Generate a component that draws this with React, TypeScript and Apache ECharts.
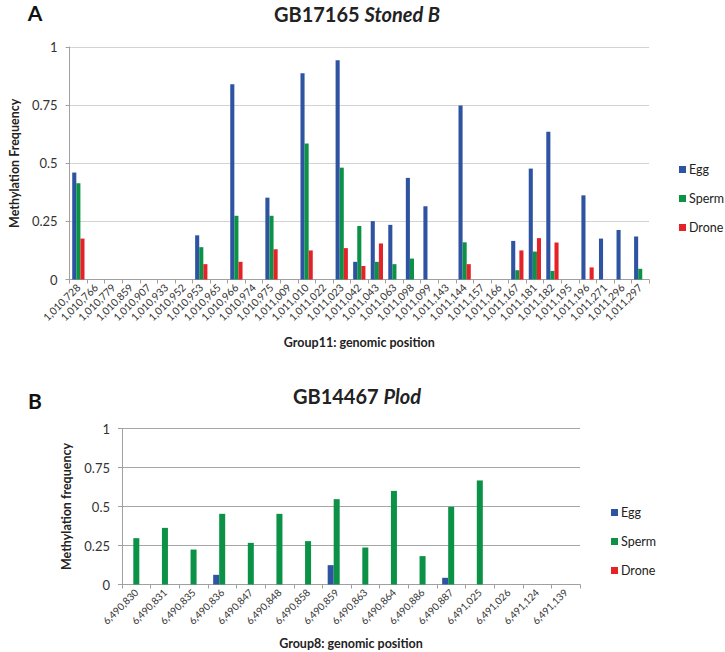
import React, { useEffect, useRef } from "react";
import * as echarts from "echarts";

const positionsA = [
  "1,010,728", "1,010,766", "1,010,779", "1,010,859", "1,010,907", "1,010,933", "1,010,952",
  "1,010,953", "1,010,965", "1,010,966", "1,010,974", "1,010,975", "1,011,009", "1,011,010",
  "1,011,022", "1,011,023", "1,011,042", "1,011,043", "1,011,063", "1,011,098", "1,011,099",
  "1,011,143", "1,011,144", "1,011,157", "1,011,166", "1,011,167", "1,011,181", "1,011,182",
  "1,011,195", "1,011,196", "1,011,271", "1,011,296", "1,011,297",
];
const eggA = [0.46, 0, 0, 0, 0, 0, 0, 0.19, 0, 0.84, 0, 0.352, 0, 0.887, 0, 0.943, 0.076, 0.251, 0.235, 0.437, 0.315, 0, 0.748, 0, 0, 0.166, 0.477, 0.636, 0, 0.362, 0.176, 0.213, 0.185];
const spermA = [0.414, 0, 0, 0, 0, 0, 0, 0.139, 0, 0.274, 0, 0.274, 0, 0.585, 0, 0.481, 0.23, 0.076, 0.066, 0.09, 0, 0, 0.16, 0, 0, 0.04, 0.12, 0.037, 0, 0, 0, 0, 0.046];
const droneA = [0.176, 0, 0, 0, 0, 0, 0, 0.066, 0, 0.076, 0, 0.13, 0, 0.125, 0, 0.135, 0.058, 0.155, 0, 0, 0, 0, 0.066, 0, 0, 0.125, 0.178, 0.159, 0, 0.052, 0, 0, 0];

const positionsB = [
  "6,490,830", "6,490,831", "6,490,835", "6,490,836", "6,490,847", "6,490,848", "6,490,858",
  "6,490,859", "6,490,863", "6,490,864", "6,490,886", "6,490,887", "6,491,025", "6,491,026",
  "6,491,124", "6,491,139",
];
const eggB = [0, 0, 0, 0.062, 0, 0, 0, 0.124, 0, 0, 0, 0.043, 0, 0, 0, 0];
const spermB = [0.297, 0.363, 0.224, 0.453, 0.267, 0.453, 0.278, 0.547, 0.237, 0.6, 0.182, 0.498, 0.667, 0, 0, 0];
const droneB = [0, 0, 0, 0, 0, 0, 0, 0, 0, 0, 0, 0, 0, 0, 0, 0];

const seriesNames = ["Egg", "Sperm", "Drone"];
const colors = ["#2E54A1", "#0C9246", "#E42328"];

const FONT = "Lato, 'Liberation Sans', sans-serif";

export default function App() {
  const ref = useRef<HTMLDivElement>(null);

  useEffect(() => {
    if (!ref.current) return;
    const chart = echarts.init(ref.current, undefined, { renderer: "svg" });

    const yAxisBase = (name: string, dotted: boolean) => ({
      type: "value",
      min: 0,
      max: 1,
      interval: 0.25,
      name,
      nameLocation: "middle",
      nameRotate: 90,
      nameGap: 44,
      nameTextStyle: { fontFamily: FONT, fontWeight: "bold", fontSize: 12.5, color: "#222" },
      axisLine: { show: true, lineStyle: { color: "#A0A0A0", width: 1 } },
      axisTick: { show: true, length: 4, lineStyle: { color: "#A0A0A0" } },
      axisLabel: { fontFamily: FONT, fontSize: 13, color: "#333", margin: 12 },
      splitLine: {
        show: true,
        lineStyle: { color: dotted ? "#A8A8A8" : "#A6A6A6", type: dotted ? "dotted" : "solid", width: 1 },
      },
    });

    const xAxisBase = (data: string[], name: string, gridIndex: number, fontSize: number, nameGap: number) => ({
      type: "category",
      gridIndex,
      data,
      name,
      nameLocation: "middle",
      nameGap,
      nameTextStyle: { fontFamily: FONT, fontWeight: "bold", fontSize: 12.5, color: "#222" },
      axisLine: { show: true, lineStyle: { color: "#A0A0A0", width: 1 } },
      axisTick: { show: true, length: 4, lineStyle: { color: "#A0A0A0" } },
      axisLabel: { interval: 0, rotate: 45, fontFamily: FONT, fontSize, color: "#333", margin: 6 },
      splitLine: { show: false },
    });

    const mkSeries = (vals: number[][], axisIndex: number, gap: string) =>
      seriesNames.map((n, i) => ({
        name: n,
        type: "bar",
        xAxisIndex: axisIndex,
        yAxisIndex: axisIndex,
        data: vals[i],
        barGap: "0%",
        barCategoryGap: gap,
        itemStyle: { color: colors[i] },
      }));

    const legendBase = (top: number, left: number, gap: number) => ({
      orient: "vertical",
      top,
      left,
      data: seriesNames,
      icon: "rect",
      itemWidth: 7,
      itemHeight: 7,
      itemGap: gap,
      textStyle: { fontFamily: FONT, fontSize: 12.5, color: "#222", padding: [0, 0, 0, -2] },
      selectedMode: false,
    });

    chart.setOption({
      animation: false,
      backgroundColor: "#ffffff",
      textStyle: { fontFamily: FONT },
      grid: [
        { left: 57, top: 47, width: 592, height: 232.5 },
        { left: 122, top: 428.5, width: 458, height: 156 },
      ],
      xAxis: [
        xAxisBase(positionsA, "Group11: genomic position", 0, 10.5, 56),
        xAxisBase(positionsB, "Group8: genomic position", 1, 10, 52),
      ],
      yAxis: [
        { ...yAxisBase("Methylation Frequency", true), gridIndex: 0 },
        { ...yAxisBase("Methylation frequency", false), gridIndex: 1 },
      ],
      legend: [legendBase(158, 674, 16), legendBase(501, 606, 16)],
      series: [
        ...mkSeries([eggA, spermA, droneA], 0, "30%"),
        ...mkSeries([eggB, spermB, droneB], 1, "37%"),
      ],
      graphic: [
        {
          type: "text",
          x: 35,
          y: 12,
          style: { text: "A", font: `bold 21px ${FONT}`, fill: "#111", align: "center", verticalAlign: "middle" },
        },
        {
          type: "text",
          x: 35,
          y: 400,
          style: { text: "B", font: `bold 21px ${FONT}`, fill: "#111", align: "center", verticalAlign: "middle" },
        },
        {
          type: "text",
          x: 357,
          y: 14,
          style: {
            text: "{a|GB17165 }{b|Stoned B}",
            align: "center",
            verticalAlign: "middle",
            rich: {
              a: { fontFamily: FONT, fontWeight: "bold", fontSize: 20, fill: "#222", color: "#222" },
              b: { fontFamily: FONT, fontWeight: "bold", fontStyle: "italic", fontSize: 20, fill: "#222", color: "#222" },
            },
          },
        },
        {
          type: "text",
          x: 357,
          y: 396,
          style: {
            text: "{a|GB14467 }{b|Plod}",
            align: "center",
            verticalAlign: "middle",
            rich: {
              a: { fontFamily: FONT, fontWeight: "bold", fontSize: 20, fill: "#222", color: "#222" },
              b: { fontFamily: FONT, fontWeight: "bold", fontStyle: "italic", fontSize: 20, fill: "#222", color: "#222" },
            },
          },
        },
      ],
    });

    return () => chart.dispose();
  }, []);

  return (
    <div
      ref={ref}
      style={{ position: "absolute", left: 0, top: 0, width: 725, height: 652, background: "#fff" }}
    />
  );
}
